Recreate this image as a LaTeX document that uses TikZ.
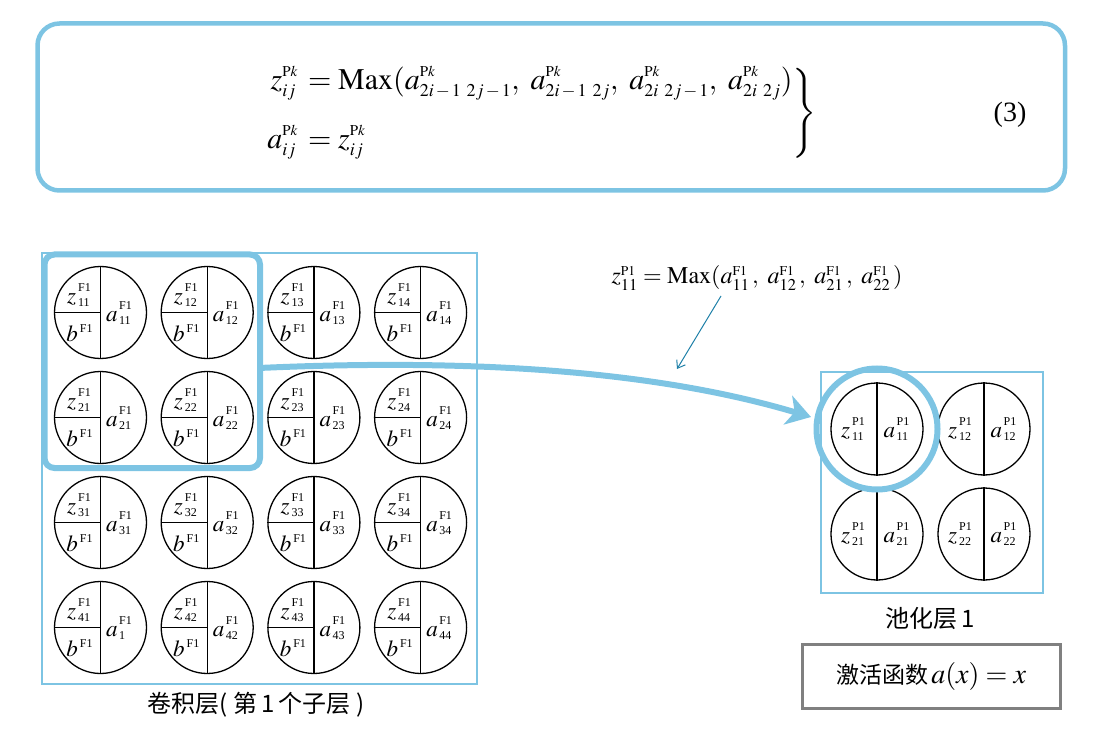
\documentclass[tikz,border=0pt]{standalone}
\usepackage{amsmath}
\usepackage{mathptmx}
\usepackage{fontspec}
\setmainfont{Liberation Serif}
\newfontfamily\cjk{Noto Sans CJK SC}
\usetikzlibrary{arrows.meta}
\DeclareMathSizes{30}{30}{18}{15}
\DeclareMathSizes{24}{24}{16.5}{13.5}
\definecolor{skyb}{RGB}{125,196,227}
\definecolor{tealarrow}{RGB}{30,128,168}
\definecolor{greyb}{RGB}{128,128,128}
\newcommand\SupSub[2]{{\fontsize{12}{12}\selectfont\setbox0\hbox{#1}\setbox2\hbox{#2}\ifdim\wd0<\wd2 \wd0=\wd2\fi\rlap{\raisebox{12pt}{\copy0}}\raisebox{-3pt}{\hbox to \wd0{\box2\hss}}}}
\newcommand\SupOnly[1]{{\fontsize{12}{12}\selectfont\raisebox{9pt}{#1}}}
\newcommand\mi{\,{-}\,}
\newcommand\Pk{{\scriptscriptstyle\mathrm{P}k}}
\newcommand\Fo{{\scriptscriptstyle\mathrm{F1}}}
\tikzset{
  cell/.style={circle, draw, line width=1.3pt, minimum size=92pt, inner sep=0pt},
  divline/.style={line width=1.2pt},
  lbl/.style={inner sep=0pt, font=\fontsize{23}{23}\selectfont},
  thinbox/.style={draw=skyb, line width=2pt},
  cjklabel/.style={font=\cjk\fontsize{24}{24}\selectfont},
}
\begin{document}
\begin{tikzpicture}[x=1pt,y=-1pt]
\useasboundingbox (0,0) rectangle (1104,738);
% top formula box
\draw[skyb, line width=4.5pt, rounded corners=22pt] (37.5,23.5) rectangle (1065,190.5);
\node[inner sep=0pt, anchor=west, font=\fontsize{30}{32}\selectfont] (eq) at (266,113)
 {$\left.\begin{aligned} z^{\Pk}_{ij}\, &= \mathrm{Max}(a^{\Pk}_{2i\mi 1\;\,2j\mi 1},\ a^{\Pk}_{2i\mi 1\;\,2j},\ a^{\Pk}_{2i\;\,2j\mi 1},\ a^{\Pk}_{2i\;\,2j}) \\[21pt] a^{\Pk}_{ij}\, &= z^{\Pk}_{ij}\end{aligned}\right\}$};
\node[inner sep=0pt, font=\fontsize{28}{32}\selectfont] (eqno) at (1010,115) {(3)};
% convolution layer
\draw[thinbox] (42,253) rectangle (477,684);
\foreach \r/\y in {1/312.5,2/417.5,3/522.5,4/627.5}{
 \foreach \c/\x in {1/100.5,2/207.2,3/313.9,4/420.6}{
  \node[cell] (c\r\c) at (\x,\y) {};
  \draw[divline] (c\r\c.north) -- (c\r\c.south);
  \draw[divline] (c\r\c.west) -- (c\r\c.center);
  \node[lbl] (z\r\c) at ([shift={(-21.5,-17.5)}]c\r\c.center) {$z$\kern2pt\SupSub{F1}{\r\c}};
  \node[lbl] (b\r\c) at ([shift={(-21,20.5)}]c\r\c.center) {$b$\kern2pt\SupOnly{F1}};
  \edef\asub{\ifnum\r\c=41 1\else\r\c\fi}
  \node[lbl] (a\r\c) at ([shift={(18.5,0.5)}]c\r\c.center) {$a$\kern1.5pt\SupSub{F1}{\asub}};
 }}
\draw[skyb, line width=6pt, rounded corners=10pt] (44.5,254.5) rectangle (260,468);
\node[cjklabel] (convlbl) at (256,705) {卷积层(\ 第\,1\,个子层\ )};
% pooling layer
\draw[thinbox] (821,372) rectangle (1043,593);
\foreach \r/\y in {1/429,2/534}{
 \foreach \c/\x in {1/877,2/984}{
  \node[cell] (p\r\c) at (\x,\y) {};
  \draw[divline] (p\r\c.north) -- (p\r\c.south);
  \node[lbl] (pz\r\c) at ([shift={(-24,0)}]p\r\c.center) {$z$\kern2pt\SupSub{P1}{\r\c}};
  \node[lbl] (pa\r\c) at ([shift={(19.5,0)}]p\r\c.center) {$a$\kern1.5pt\SupSub{P1}{\r\c}};
 }}
\node[circle, draw=skyb, line width=6pt, minimum size=121pt, inner sep=0pt] (hc) at (p11.center) {};
\node[cjklabel] (poollbl) at (930,618) {池化层\,1};
% activation box
\node[draw=greyb, line width=3pt, minimum width=258pt, minimum height=64pt, inner sep=0pt] (act) at (931.5,676.5)
 {{\cjk\fontsize{23}{28}\selectfont 激活函数}\ {\fontsize{28}{28}\selectfont$a(x)=x$}};
% small formula
\node[inner sep=0pt, font=\fontsize{24}{26}\selectfont] (mf) at (757,278)
 {$z^{\scriptscriptstyle\mathrm{P1}}_{11} = \mathrm{Max}(a^{\Fo}_{11}\,,\ a^{\Fo}_{12}\,,\ a^{\Fo}_{21}\,,\ a^{\Fo}_{22}\,)$};
\coordinate (ts) at (721,296);
\coordinate (te) at (677,369);
\draw[tealarrow, line width=1pt, -{Straight Barb[length=7pt,width=10pt]}] (ts) -- (te);
% thick arrow
\coordinate (as) at (259,368);
\coordinate (ae) at (811,417);
\draw[skyb, line width=6pt, -{Stealth[length=24pt,width=30pt,inset=7pt]}] (as) .. controls (480,358) and (660,372) .. (ae);
\end{tikzpicture}
\end{document}
